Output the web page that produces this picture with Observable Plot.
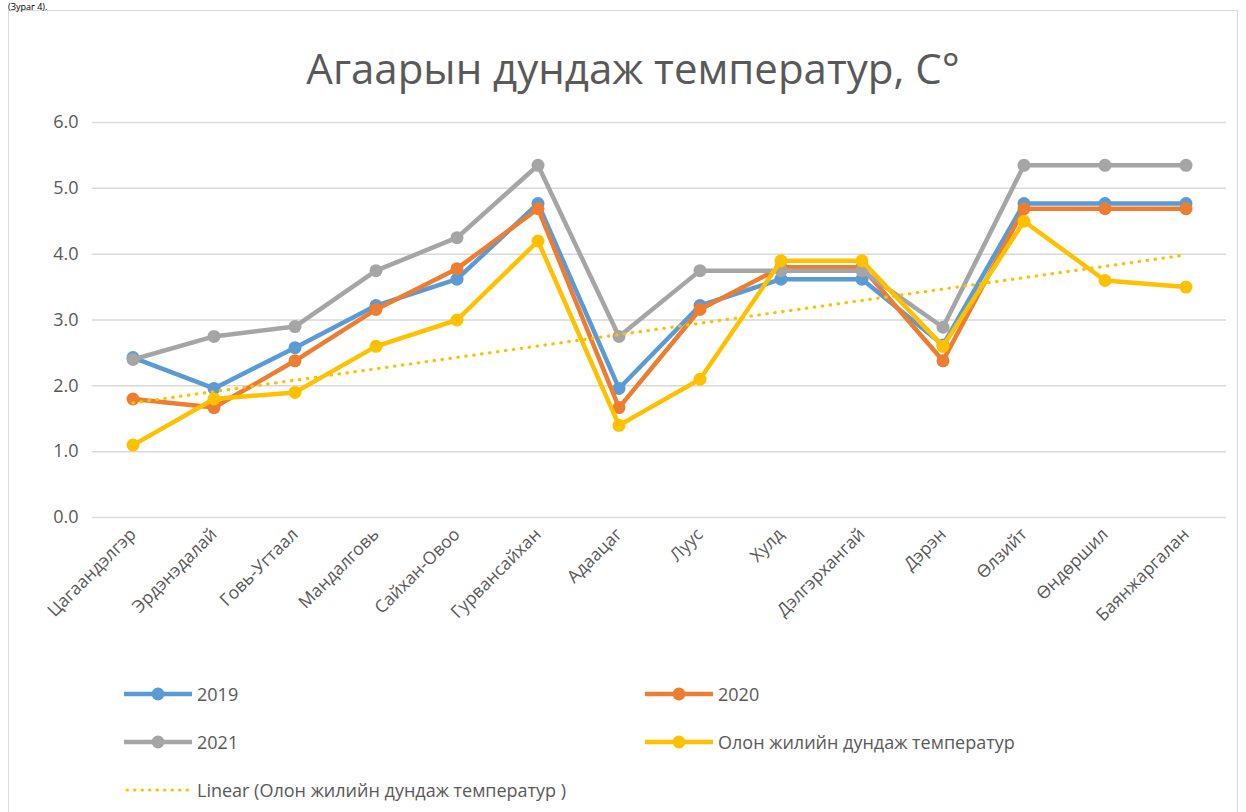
<!DOCTYPE html>
<html>
<head>
<meta charset="utf-8">
<script src="https://cdn.jsdelivr.net/npm/d3@7"></script>
<script src="https://cdn.jsdelivr.net/npm/@observablehq/plot@0.6"></script>
<style>
  html, body { margin:0; padding:0; background:#fff; width:1246px; height:812px; overflow:hidden; font-family:"Open Sans", "DejaVu Sans", sans-serif; }
  #cap { position:absolute; left:8px; top:1px; font-size:9px; line-height:12px; color:#000; }
  #frame { position:absolute; left:8px; top:10px; width:1230px; height:830px; border:1.5px solid #d9d9d9; box-sizing:border-box; }
  #title { position:absolute; left:0; width:1266px; top:40px; text-align:center; font-size:42px; line-height:56px; color:#595959; }
  #chart { position:absolute; left:0; top:100px; }
  .leg { position:absolute; display:flex; align-items:center; font-size:18px; color:#595959; }
  .leg svg { margin-right:5px; }
</style>
</head>
<body>
<div id="frame"></div>
<div id="cap">(Зураг 4).</div>
<div id="title">Агаарын дундаж температур, C°</div>
<div id="chart"></div>
<div id="legend"></div>
<script>
const categories = ["Цагаандэлгэр","Эрдэнэдалай","Говь-Угтаал","Мандалговь","Сайхан-Овоо","Гурвансайхан","Адаацаг","Луус","Хулд","Дэлгэрхангай","Дэрэн","Өлзийт","Өндөршил","Баянжаргалан"];
const v2019 = [2.43, 1.96, 2.58, 3.22, 3.62, 4.77, 1.96, 3.22, 3.62, 3.62, 2.62, 4.77, 4.77, 4.77];
const v2020 = [1.80, 1.67, 2.38, 3.16, 3.78, 4.69, 1.67, 3.16, 3.80, 3.80, 2.38, 4.69, 4.69, 4.69];
const v2021 = [2.40, 2.75, 2.90, 3.75, 4.25, 5.35, 2.75, 3.75, 3.75, 3.75, 2.89, 5.35, 5.35, 5.35];
const vLong = [1.10, 1.80, 1.90, 2.60, 3.00, 4.20, 1.40, 2.10, 3.90, 3.90, 2.60, 4.50, 3.60, 3.50];
const seriesNames = ["2019", "2020", "2021", "Олон жилийн дундаж температур"];
const trendName = "Linear (Олон жилийн дундаж температур )";
const yTicks = [0, 1, 2, 3, 4, 5, 6];

const colors = ["#5B9BD5", "#ED7D31", "#A5A5A5", "#FFC000"];
const allValues = [v2019, v2020, v2021, vLong];

const rows = seriesNames.map((name, s) =>
  allValues[s].map((v, i) => ({series: name, idx: i + 1, cat: categories[i], value: v}))
);

const marks = [
  Plot.gridY(yTicks, {stroke: "#d9d9d9", strokeOpacity: 1, strokeWidth: 1.5}),
  Plot.axisY(yTicks, {tickSize: 0, tickPadding: 14, fontSize: 18, tickFormat: d => d.toFixed(1)}),
  Plot.axisX(d3.range(1, categories.length + 1), {tickSize: 0, tickPadding: 14, tickRotate: -45, fontSize: 17.5, tickFormat: i => categories[i - 1]})
];
rows.forEach((r, s) => {
  marks.push(Plot.line(r, {x: "idx", y: "value", stroke: colors[s], strokeWidth: 4.5, strokeLinejoin: "round"}));
  marks.push(Plot.dot(r, {x: "idx", y: "value", r: 6.5, fill: colors[s], stroke: "none"}));
});
marks.push(Plot.linearRegressionY(rows[3], {x: "idx", y: "value", ci: 0, stroke: "#FFC000", strokeWidth: 3.2, strokeDasharray: "0.5,7.5", strokeLinecap: "round"}));

const chart = Plot.plot({
  width: 1246,
  height: 550,
  marginLeft: 92,
  marginRight: 20,
  marginTop: 22,
  marginBottom: 133,
  style: {color: "#595959", fontFamily: "'Open Sans', sans-serif", background: "transparent"},
  x: {type: "linear", domain: [0.5, categories.length + 0.5], label: null},
  y: {domain: [0, 6], label: null},
  marks
});
document.getElementById("chart").appendChild(chart);

// legend
const legendItems = [
  {label: seriesNames[0], color: colors[0], left: 124, top: 694, dotted: false},
  {label: seriesNames[1], color: colors[1], left: 645, top: 694, dotted: false},
  {label: seriesNames[2], color: colors[2], left: 124, top: 742, dotted: false},
  {label: seriesNames[3], color: colors[3], left: 645, top: 742, dotted: false},
  {label: trendName, color: colors[3], left: 124, top: 790, dotted: true}
];
const legend = document.getElementById("legend");
legendItems.forEach(it => {
  const d = document.createElement("div");
  d.className = "leg";
  d.style.left = it.left + "px";
  d.style.top = (it.top - 14) + "px";
  d.style.height = "28px";
  const sw = it.dotted
    ? `<svg width="68" height="20"><line x1="3" y1="10" x2="66" y2="10" stroke="${it.color}" stroke-width="3" stroke-dasharray="0.5,7" stroke-linecap="round"/></svg>`
    : `<svg width="68" height="20"><line x1="0" y1="10" x2="68" y2="10" stroke="${it.color}" stroke-width="4.5"/><circle cx="34" cy="10" r="6.5" fill="${it.color}"/></svg>`;
  d.innerHTML = sw + `<span>${it.label}</span>`;
  legend.appendChild(d);
});
</script>
</body>
</html>
